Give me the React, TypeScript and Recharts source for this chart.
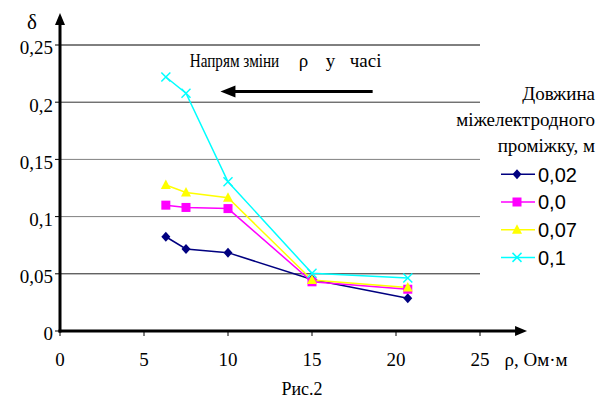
import React from 'react';
import { LineChart, Line, XAxis, YAxis, ReferenceLine, Legend } from 'recharts';

// ---- data ----
const rhoValues = [6.3, 7.5, 10, 15, 20.7];
const gap002 = [0.0824, 0.0717, 0.0685, 0.045, 0.0286];
const gap00 = [0.11, 0.108, 0.107, 0.043, 0.0365];
const gap007 = [0.1276, 0.121, 0.1165, 0.0446, 0.038];
const gap01 = [0.222, 0.2078, 0.1305, 0.0504, 0.0463];
const seriesNames = ['0,02', '0,0', '0,07', '0,1'];
const xTicks = [0, 5, 10, 15, 20, 25];
const yTicks = [0, 0.05, 0.1, 0.15, 0.2, 0.25];
const yTickLabels = ['0', '0,05', '0,1', '0,15', '0,2', '0,25'];
const legendTitle = ['Довжина', 'міжелектродного', 'проміжку, м'];
const arrowNote = ['Напрям зміни', 'ρ', 'у', 'часі'];
const arrowY = 0.2093;
const arrowFrom = 18.61;
const arrowTo = 9.55;

const data = rhoValues.map((r, i) => ({
  rho: r,
  s0: gap002[i],
  s1: gap00[i],
  s2: gap007[i],
  s3: gap01[i],
}));

const SERIF = 'Liberation Serif';
const SANS = 'Liberation Sans';

const series = [
  { key: 's0', name: seriesNames[0], color: '#000080', marker: 'diamond' },
  { key: 's1', name: seriesNames[1], color: '#FF00FF', marker: 'square' },
  { key: 's2', name: seriesNames[2], color: '#FFFF00', marker: 'triangle' },
  { key: 's3', name: seriesNames[3], color: '#00FFFF', marker: 'x' },
];

const gridColors: Record<string, string> = {
  '0.05': '#222',
  '0.1': '#808080',
  '0.15': '#808080',
  '0.2': '#333',
  '0.25': '#000',
};

function T({ fam, children, ...rest }: any) {
  return (
    <text {...rest} fontFamily={fam} style={{ fontFamily: fam }}>
      {children}
    </text>
  );
}

function Marker({ kind, cx, cy, color }: { kind: string; cx: number; cy: number; color: string }) {
  if (cx == null || cy == null) return null;
  switch (kind) {
    case 'diamond':
      return <polygon points={`${cx},${cy - 5} ${cx + 4.5},${cy} ${cx},${cy + 5} ${cx - 4.5},${cy}`} fill={color} />;
    case 'square':
      return <rect x={cx - 4.5} y={cy - 4.5} width={9} height={9} fill={color} />;
    case 'triangle':
      return <polygon points={`${cx},${cy - 5.5} ${cx + 5},${cy + 4} ${cx - 5},${cy + 4}`} fill={color} />;
    default:
      return (
        <g stroke={color} strokeWidth={1.5}>
          <line x1={cx - 4.5} y1={cy - 4.5} x2={cx + 4.5} y2={cy + 4.5} />
          <line x1={cx - 4.5} y1={cy + 4.5} x2={cx + 4.5} y2={cy - 4.5} />
        </g>
      );
  }
}

const YTick = (props: any) => {
  const { x, y, payload } = props;
  const idx = yTicks.indexOf(payload.value);
  return (
    <T fam={SERIF} x={x} y={y + 9.4} textAnchor="end" fontSize={19} fill="#000">
      {idx >= 0 ? yTickLabels[idx] : String(payload.value)}
    </T>
  );
};

const XTick = (props: any) => {
  const { x, y, payload } = props;
  return (
    <T fam={SERIF} x={x} y={y + 27.7} textAnchor="middle" fontSize={19} fill="#000">
      {String(payload.value)}
    </T>
  );
};

const YAxisArrow = (p: any) => {
  const { x1, y1, x2, y2 } = p;
  return (
    <g>
      <line x1={x1} y1={y1 + 1.5} x2={x2} y2={y2 + 10} stroke="#000" strokeWidth={3} />
      <polygon points={`${x2},${y2} ${x2 + 5},${y2 + 12} ${x2 - 5},${y2 + 12}`} fill="#000" />
      <T fam={SERIF} x={x2 - 33} y={y2 + 16} fontSize={21} fill="#000">δ</T>
    </g>
  );
};

const XAxisArrow = (p: any) => {
  const { x1, y1, x2, y2 } = p;
  return (
    <g>
      <line x1={x1 - 1.5} y1={y1} x2={x2 - 10} y2={y2} stroke="#000" strokeWidth={3} />
      <polygon points={`${x2},${y2} ${x2 - 12},${y2 - 5} ${x2 - 12},${y2 + 5}`} fill="#000" />
      <T fam={SERIF} x={x2 - 22.6} y={y2 + 34.7} fontSize={19} fill="#000">ρ, Ом·м</T>
      <T fam={SERIF} x={302} y={395} textAnchor="middle" fontSize={18} fill="#000">Рис.2</T>
    </g>
  );
};

const DirectionArrow = (p: any) => {
  const { x1, y1, x2, y2 } = p;
  const tip = x2;
  const ty = y2 - 24.2;
  return (
    <g>
      <line x1={x1} y1={y1} x2={tip + 12} y2={y2} stroke="#000" strokeWidth={3} />
      <polygon points={`${tip},${y2} ${tip + 15},${y2 - 6} ${tip + 15},${y2 + 6}`} fill="#000" />
      <g transform={`translate(${tip - 30.7},${ty}) scale(0.8,1)`}>
        <T fam={SERIF} x={0} y={0} fontSize={19} fill="#000">
          {arrowNote[0]}
        </T>
      </g>
      <T fam={SERIF} x={tip + 78.3} y={ty} fontSize={19} fill="#000">{arrowNote[1]}</T>
      <T fam={SERIF} x={tip + 105.3} y={ty} fontSize={19} fill="#000">{arrowNote[2]}</T>
      <T fam={SERIF} x={tip + 129.3} y={ty} fontSize={19} fill="#000">{arrowNote[3]}</T>
    </g>
  );
};

const renderLegend = (props: any) => {
  const payload = (props && props.payload) || [];
  return (
    <svg width={159} height={200} style={{ display: 'block', overflow: 'visible' }}>
      {legendTitle.map((t, i) => (
        <T fam={SERIF} key={t} x={155} y={20 + i * 26} textAnchor="end" fontSize={19} fill="#000">
          {t}
        </T>
      ))}
      {series.map((s, i) => {
        const entry = payload.find((e: any) => e.dataKey === s.key);
        const color = entry ? entry.color : s.color;
        const name = entry ? entry.value : s.name;
        const cy = 94.3 + i * 27.7;
        return (
          <g key={s.key}>
            <line x1={61} x2={95} y1={cy} y2={cy} stroke={color} strokeWidth={1.5} />
            <Marker kind={s.marker} cx={77} cy={cy} color={color} />
            <T fam={SANS} x={98} y={cy + 7.2} fontSize={20} fill="#000">
              {name}
            </T>
          </g>
        );
      })}
    </svg>
  );
};

export default function App() {
  return (
    <div style={{ position: 'absolute', left: 0, top: 0, width: 599, height: 398, background: '#fff' }}>
      <LineChart width={599} height={398} data={data} margin={{ top: 45, right: 119, bottom: 37, left: 0 }}>
        <XAxis
          type="number"
          dataKey="rho"
          domain={[0, 25]}
          ticks={xTicks}
          interval={0}
          axisLine={false}
          tickSize={5}
          tickLine={{ stroke: '#000' }}
          tick={<XTick />}
          height={30}
        />
        <YAxis
          type="number"
          domain={[0, 0.25]}
          ticks={yTicks}
          interval={0}
          axisLine={false}
          tickSize={5}
          tickLine={{ stroke: '#000' }}
          tick={<YTick />}
          width={60}
        />
        {yTicks
          .filter((v) => v > 0)
          .map((v) => (
            <ReferenceLine key={`g${v}`} y={v} stroke={gridColors[String(v)]} strokeWidth={1} ifOverflow="visible" />
          ))}
        {series.map((s) => (
          <Line
            key={s.key}
            type="linear"
            dataKey={s.key}
            name={s.name}
            stroke={s.color}
            strokeWidth={1.5}
            isAnimationActive={false}
            dot={(p: any) => (
              <g key={`${s.key}-${p.index}`}>
                <Marker kind={s.marker} cx={p.cx} cy={p.cy} color={s.color} />
              </g>
            )}
            activeDot={false}
          />
        ))}
        <ReferenceLine
          segment={[{ x: arrowFrom, y: arrowY }, { x: arrowTo, y: arrowY }]}
          ifOverflow="visible"
          shape={<DirectionArrow />}
        />
        <ReferenceLine
          segment={[{ x: 0, y: 0 }, { x: 0, y: 0.278 }]}
          ifOverflow="visible"
          shape={<YAxisArrow />}
        />
        <ReferenceLine
          segment={[{ x: 0, y: 0 }, { x: 27.8, y: 0 }]}
          ifOverflow="visible"
          shape={<XAxisArrow />}
        />
        <Legend
          layout="vertical"
          align="center"
          verticalAlign="middle"
          content={renderLegend}
          wrapperStyle={{ position: 'absolute', left: 440, top: 80, width: 159, height: 200 }}
        />
      </LineChart>
    </div>
  );
}
